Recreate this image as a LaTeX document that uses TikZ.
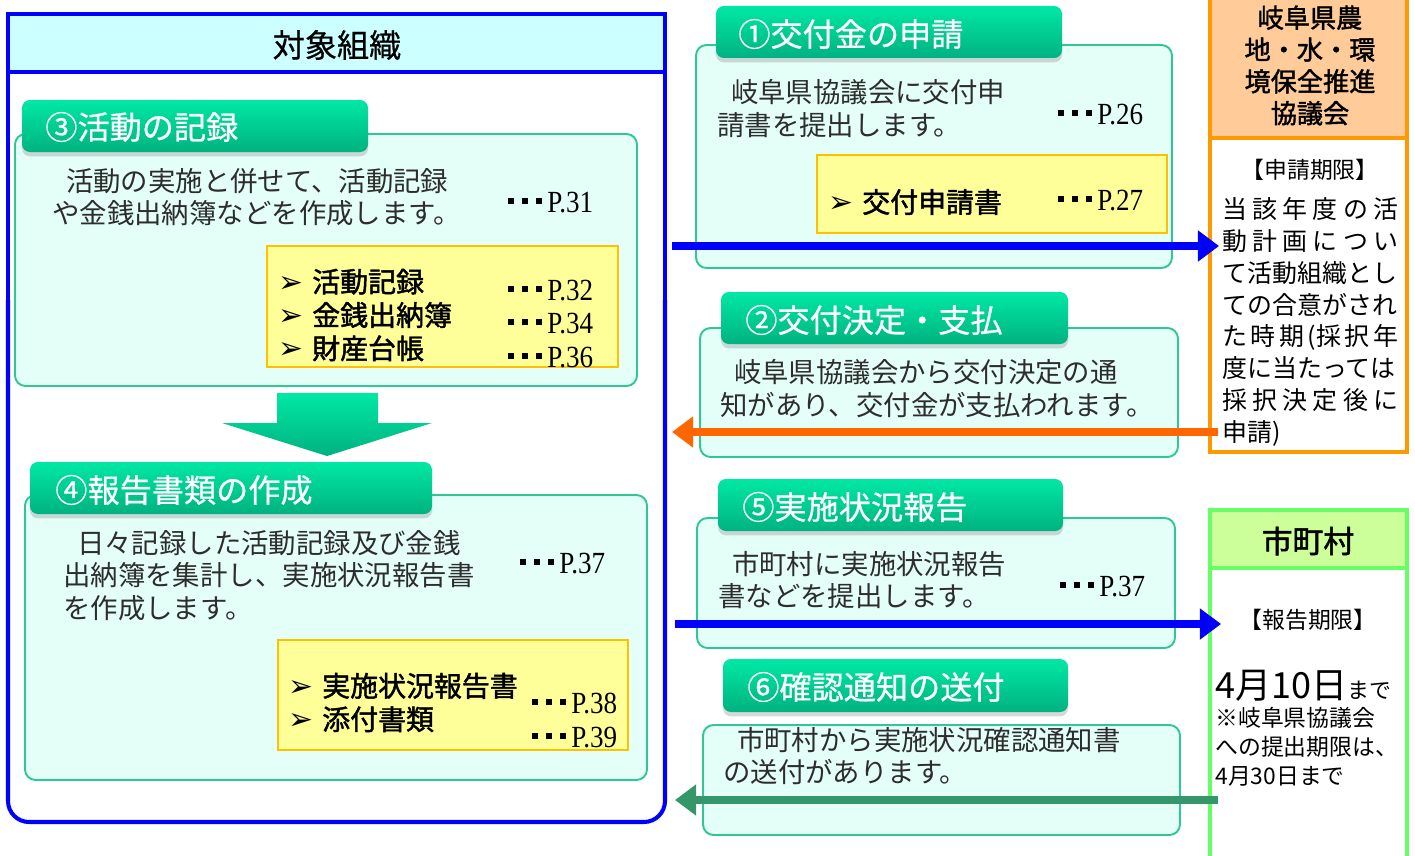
\documentclass[tikz,border=0pt]{standalone}
\usepackage{fontspec}
\setmainfont{Noto Sans CJK JP}
\newfontfamily\jpsemi{Noto Sans CJK JP}[FakeBold=1.6]
\newfontfamily\jptab{Noto Sans CJK JP}[FakeBold=0.6]
\newfontfamily\pgfont{Liberation Serif}[FakeStretch=0.88]
\newfontfamily\dejavu{DejaVu Sans}
\usetikzlibrary{arrows.meta,shadows}
\definecolor{bluel}{RGB}{0,0,255}
\definecolor{hdrcyan}{RGB}{204,255,255}
\definecolor{boxline}{RGB}{45,200,150}
\definecolor{boxfill}{RGB}{228,255,247}
\definecolor{tabtop}{RGB}{0,232,165}
\definecolor{tabbot}{RGB}{0,178,128}
\definecolor{yfill}{RGB}{255,255,153}
\definecolor{yline}{RGB}{255,192,0}
\definecolor{orarrow}{RGB}{255,102,0}
\definecolor{grarrow}{RGB}{52,150,105}
\definecolor{orline}{RGB}{255,153,0}
\definecolor{orfill}{RGB}{255,204,153}
\definecolor{grline}{RGB}{102,255,102}
\definecolor{grfill}{RGB}{204,255,153}
\definecolor{txtgray}{RGB}{45,45,45}
\newcommand\pgdots{\rule[4.8pt]{3pt}{3pt}\hspace{5pt}\rule[4.8pt]{3pt}{3pt}\hspace{5pt}\rule[4.8pt]{3pt}{3pt}\hspace{3.2pt}}
\newcommand\pgref[1]{\pgdots P.#1}
\newcommand\itm[1]{\makebox[19.3pt][l]{\dejavu\fontsize{17}{13}\selectfont ➢}#1}
\begin{document}
\begin{tikzpicture}[x=0.02cm,y=-0.02cm,
  mbox/.style={draw=boxline, fill=boxfill, line width=1.1pt, rounded corners=6pt},
  tabbox/.style={rounded corners=4.5pt, top color=tabtop, bottom color=tabbot,
     drop shadow={shadow xshift=0pt, shadow yshift=-2.5pt, opacity=0.3}},
  tabtxt/.style={anchor=west, inner sep=0, text=white, font=\jptab\fontsize{18.3}{18.3}\selectfont},
  desc/.style={anchor=west, inner sep=0, align=left, text=txtgray, font=\fontsize{15.6}{18.4}\selectfont},
  pg/.style={anchor=base west, inner sep=0, text=black, font=\pgfont\fontsize{17.5}{17.5}\selectfont},
  ybox/.style={draw=yline, fill=yfill, line width=1.1pt},
  itemtxt/.style={anchor=west, inner sep=0, align=left, text=black, font=\jpsemi\fontsize{15.9}{19}\selectfont},
  flowarrow/.style={line width=4pt, -{Triangle[length=12pt,width=17pt]}},
  coltxt/.style={inner sep=0, text=black}
]
\useasboundingbox (0,0) rectangle (1415,855);
\fill[white] (0,0) rectangle (1415,855);

% ---------- left organisation box ----------
\fill[white] (8,14) rectangle (665,822);
\fill[hdrcyan] (8,14) rectangle (665,72);
\draw[bluel, line width=2.3pt] (8,300) -- (8,14) -- (665,14) -- (665,300);
\draw[bluel, line width=2.3pt, rounded corners=12pt] (665,300) -- (665,822) -- (8,822) -- (8,300);
\draw[bluel, line width=2.3pt] (8,72) -- (665,72);
\node[coltxt, font=\jptab\fontsize{18.3}{18.3}\selectfont] (orgtitle) at (337,45) {対象組織};

% ③
\path[mbox] (15,134) rectangle (637,386);
\path[tabbox] (22,100) rectangle (368,152);
\node[tabtxt] (t3) at (45,127) {③活動の記録};
\node[desc] (d3) at (52,197) {\hspace*{0.5em}活動の実施と併せて、活動記録\\や金銭出納簿などを作成します。};
\node[pg] (p31) at (508,212) {\pgref{31}};
\path[ybox] (267,246) rectangle (618,367);
\node[itemtxt] (i3) at (278,315) {\itm{活動記録}\\\itm{金銭出納簿}\\\itm{財産台帳}};
\node[pg] (p32) at (508,300) {\pgref{32}};
\node[pg] (p34) at (508,333) {\pgref{34}};
\node[pg] (p36) at (508,367) {\pgref{36}};

% down arrow
\path[top color=tabtop, bottom color=tabbot] (277,393) -- (378,393) -- (378,423) -- (432,423) -- (327,456) -- (222,423) -- (277,423) -- cycle;

% ④
\path[mbox] (25,495) rectangle (647,780);
\path[tabbox] (30,462) rectangle (432,514);
\node[tabtxt] (t4) at (55,490) {④報告書類の作成};
\node[desc] (d4) at (63,575.5) {\hspace*{0.5em}日々記録した活動記録及び金銭\\出納簿を集計し、実施状況報告書\\を作成します。};
\node[pg] (p37a) at (520,573) {\pgref{37}};
\path[ybox] (278,640) rectangle (628,750);
\node[itemtxt] (i4) at (288,702.5) {\itm{実施状況報告書}\\\itm{添付書類}};
\node[pg] (p38) at (532,713) {\pgref{38}};
\node[pg] (p39) at (532,747) {\pgref{39}};

% ---------- right-hand columns ----------
\fill[orfill] (1210,-5) rectangle (1407,138);
\fill[white] (1210,138) rectangle (1407,452);
\draw[orline, line width=2.8pt] (1210,-5) rectangle (1407,452);
\draw[orline, line width=2.8pt] (1210,138) -- (1407,138);
\node[coltxt, align=center, font=\jpsemi\fontsize{14.9}{18.1}\selectfont] (kyo) at (1310,65.5) {岐阜県農\\地・水・環\\境保全推進\\協議会};
\node[coltxt, font=\fontsize{13}{13}\selectfont] (kyolim) at (1310,170) {【申請期限】};
\node[coltxt, anchor=west, align=left, font=\fontsize{14.2}{18.1}\selectfont] (kyotxt) at (1222,322) {%
\hbox to 3.52cm{当\hfil 該\hfil 年\hfil 度\hfil の\hfil 活}\\
\hbox to 3.52cm{動\hfil 計\hfil 画\hfil に\hfil つ\hfil い}\\
\hbox to 3.52cm{て活動組織とし}\\
\hbox to 3.52cm{ての合意がされ}\\
\hbox to 3.52cm{た\hfil 時\hfil 期\hfil (採\hfil 択\hfil 年}\\
\hbox to 3.52cm{度に当たっては}\\
\hbox to 3.52cm{採\hfil 択\hfil 決\hfil 定\hfil 後\hfil に}\\
\hbox to 3.52cm{申請)\hfil}};

\fill[grfill] (1210,510) rectangle (1407,568);
\fill[white] (1210,568) rectangle (1407,870);
\draw[grline, line width=2.8pt] (1210,510) rectangle (1407,870);
\draw[grline, line width=2.8pt] (1210,568) -- (1407,568);
\node[coltxt, font=\jpsemi\fontsize{17.5}{17.5}\selectfont] (city) at (1308,541) {市町村};
\node[coltxt, font=\fontsize{13}{13}\selectfont] (citylim) at (1308,620) {【報告期限】};
\node[coltxt, anchor=base west] (citydate) at (1215,698) {{\fontsize{20.5}{20}\selectfont 4月10日}{\fontsize{12.5}{12.5}\selectfont まで}};
\node[coltxt, anchor=west, align=left, font=\fontsize{13}{16.4}\selectfont] (citynote) at (1215,747) {※岐阜県協議会\\への提出期限は、\\4月30日まで};

% ①
\path[mbox] (696,45) rectangle (1172,268);
\path[tabbox] (716,6) rectangle (1062,58);
\node[tabtxt] (t1) at (738,34) {①交付金の申請};
\node[desc] (d1) at (717,108.5) {\hspace*{0.5em}岐阜県協議会に交付申\\請書を提出します。};
\node[pg] (p26) at (1058,124) {\pgref{26}};
\path[ybox] (817,155) rectangle (1167,233);
\node[itemtxt] (i1) at (828,202) {\itm{交付申請書}};
\node[pg] (p27) at (1058,210) {\pgref{27}};

% ②
\path[mbox] (700,328) rectangle (1178,457);
\path[tabbox] (721,292) rectangle (1068,344);
\node[tabtxt] (t2) at (745,320) {②交付決定・支払};
\node[desc] (d2) at (720,388.5) {\hspace*{0.5em}岐阜県協議会から交付決定の通\\知があり、交付金が支払われます。};

% ⑤
\path[mbox] (697,518) rectangle (1175,648);
\path[tabbox] (718,479) rectangle (1063,531);
\node[tabtxt] (t5) at (742,507) {⑤実施状況報告};
\node[desc] (d5) at (718,580) {\hspace*{0.5em}市町村に実施状況報告\\書などを提出します。};
\node[pg] (p37b) at (1060,596) {\pgref{37}};

% ⑥
\path[mbox] (703,725) rectangle (1180,835);
\path[tabbox] (723,659) rectangle (1068,712);
\node[tabtxt] (t6) at (747,687) {⑥確認通知の送付};
\node[desc] (d6) at (723,756) {\hspace*{0.5em}市町村から実施状況確認通知書\\の送付があります。};

% ---------- connectors ----------
\coordinate (orgE1) at (672,246);
\coordinate (kyoW1) at (1219,246);
\coordinate (kyoW2) at (1218,432);
\coordinate (orgE2) at (672,432);
\coordinate (orgE3) at (675,624);
\coordinate (cityW1) at (1221,624);
\coordinate (cityW2) at (1218,800);
\coordinate (orgE4) at (675,800);
\draw[flowarrow, bluel] (orgE1) -- (kyoW1);
\draw[flowarrow, orarrow] (kyoW2) -- (orgE2);
\draw[flowarrow, bluel] (orgE3) -- (cityW1);
\draw[flowarrow, grarrow] (cityW2) -- (orgE4);
\end{tikzpicture}
\end{document}
